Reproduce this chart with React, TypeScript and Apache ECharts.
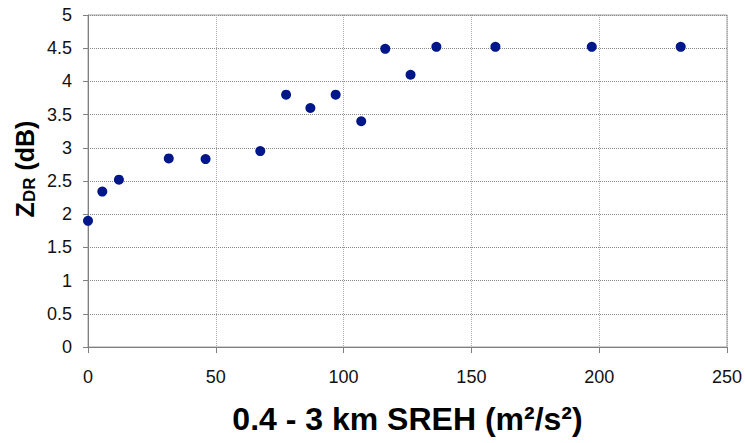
import React, { useEffect, useRef } from "react";
import * as echarts from "echarts";

const sreh = [0, 5.6, 12.1, 31.6, 46.0, 67.4, 77.5, 87.0, 96.9, 106.9, 116.3, 126.2, 136.3, 159.4, 197.1, 231.9];
const zdr = [1.9, 2.34, 2.52, 2.84, 2.83, 2.95, 3.8, 3.6, 3.8, 3.4, 4.49, 4.1, 4.52, 4.52, 4.52, 4.52];

const xTitle = "0.4 - 3 km SREH (m²/s²)";

export default function App() {
  const ref = useRef<HTMLDivElement>(null);
  useEffect(() => {
    if (!ref.current) return;
    const chart = echarts.init(ref.current, null, { renderer: "svg" });
    const font = "'Liberation Sans', Arial, sans-serif";
    chart.setOption({
      animation: false,
      backgroundColor: "#ffffff",
      grid: {
        left: 88,
        right: 18,
        top: 15,
        bottom: 96,
        show: true,
        borderColor: "#a0a0a0",
        borderWidth: 1,
        backgroundColor: "transparent",
      },
      xAxis: {
        type: "value",
        min: 0,
        max: 250,
        interval: 50,
        name: xTitle,
        nameLocation: "middle",
        nameGap: 56,
        nameTextStyle: { fontFamily: font, fontSize: 32, fontWeight: "bold", color: "#000" },
        axisLine: { show: true, onZero: false, lineStyle: { color: "#808080", width: 1 } },
        axisTick: { show: true, length: 6, lineStyle: { color: "#808080" } },
        axisLabel: { fontFamily: font, fontSize: 18, color: "#111", margin: 21 },
        splitLine: { show: true, lineStyle: { color: "#aaaaaa", type: "dotted", width: 1 } },
      },
      yAxis: {
        type: "value",
        min: 0,
        max: 5,
        interval: 0.5,
        axisLine: { show: true, lineStyle: { color: "#808080", width: 1 } },
        axisTick: { show: true, length: 5, lineStyle: { color: "#808080" } },
        axisLabel: { fontFamily: font, fontSize: 18, color: "#111", margin: 16 },
        splitLine: { show: true, lineStyle: { color: "#888888", type: "dotted", width: 1 } },
      },
      graphic: [
        {
          type: "text",
          x: 25,
          y: 169,
          rotation: Math.PI / 2,
          style: {
            text: "{a|Z}{b|DR}{a| (dB)}",
            align: "center",
            verticalAlign: "middle",
            rich: {
              a: { fontFamily: font, fontSize: 25, fontWeight: "bold", fill: "#000", verticalAlign: "bottom" },
              b: { fontFamily: font, fontSize: 17, fontWeight: "bold", fill: "#000", verticalAlign: "bottom" },
            },
          },
        },
      ],
      series: [
        {
          type: "scatter",
          data: sreh.map((x, i) => [x, zdr[i]]),
          symbol: "circle",
          symbolSize: 10,
          itemStyle: { color: "#00178c", opacity: 1 },
        },
      ],
    });
    return () => chart.dispose();
  }, []);
  return <div ref={ref} style={{ width: 745, height: 443, position: "absolute", left: 0, top: 0 }} />;
}
